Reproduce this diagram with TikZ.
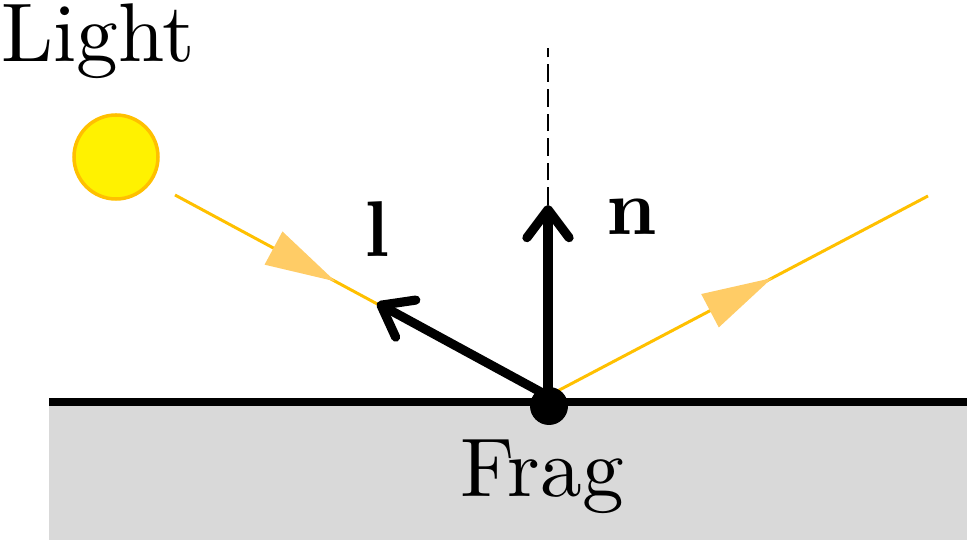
\documentclass[tikz,border=0pt]{standalone}
\usepackage{fontspec}
\setmainfont{lmroman10-regular.otf}[BoldFont=lmroman10-bold.otf]
\usetikzlibrary{arrows.meta,decorations.markings}
\definecolor{raycol}{RGB}{255,192,0}
\definecolor{tipcol}{RGB}{255,204,102}
\tikzset{
  ray/.style={raycol,line width=0.85pt,postaction={decorate},
    decoration={markings,mark=at position #1 with
      {\arrow{Triangle[length=20pt,width=10.5pt,color=tipcol]}}}},
  vec/.style={line width=2.6pt,-{Straight Barb[round,length=8pt,width=12pt]}},
  veclabel/.style={anchor=base,font=\fontsize{22.5}{27}\selectfont\bfseries},
}
\begin{document}
\begin{tikzpicture}[x=1cm,y=1cm,font=\fontsize{23.7}{28}\selectfont]
  \useasboundingbox (0,0) rectangle (9.67,5.40);
  \fill[black!15] (0.49,0) rectangle (9.67,1.38);
  \draw[line width=2.3pt] (0.49,1.38) -- (9.67,1.38);
  \node[circle,draw=raycol,fill=yellow,line width=1pt,minimum size=0.84cm,inner sep=0pt] (sun) at (1.16,3.83) {};
  \node[anchor=base] (light) at (0.98,4.78) {Light};
  \coordinate (hit) at (5.48,1.44);
  \coordinate (rayin) at (1.75,3.45);
  \coordinate (rayout) at (9.28,3.44);
  \coordinate (ltip) at (3.77,2.37);
  \coordinate (ntip) at (5.48,3.35);
  \coordinate (ntop) at (5.48,4.92);
  \draw[ray=0.43] (rayin) -- (hit);
  \draw[ray=0.59] (hit) -- (rayout);
  \draw[line width=0.6pt,dash pattern=on 5pt off 2pt] (ntip) -- (ntop);
  \draw[vec] (hit) -- (ltip);
  \draw[vec] (hit) -- (ntip);
  \node[circle,fill=black,minimum size=0.38cm,inner sep=0pt] (frag) at (5.49,1.34) {};
  \node[anchor=base] (fraglabel) at (5.42,0.43) {Frag};
  \node[veclabel] (nlabel) at (6.32,3.05) {n};
  \node[veclabel] (llabel) at (3.77,2.83) {l};
\end{tikzpicture}
\end{document}
